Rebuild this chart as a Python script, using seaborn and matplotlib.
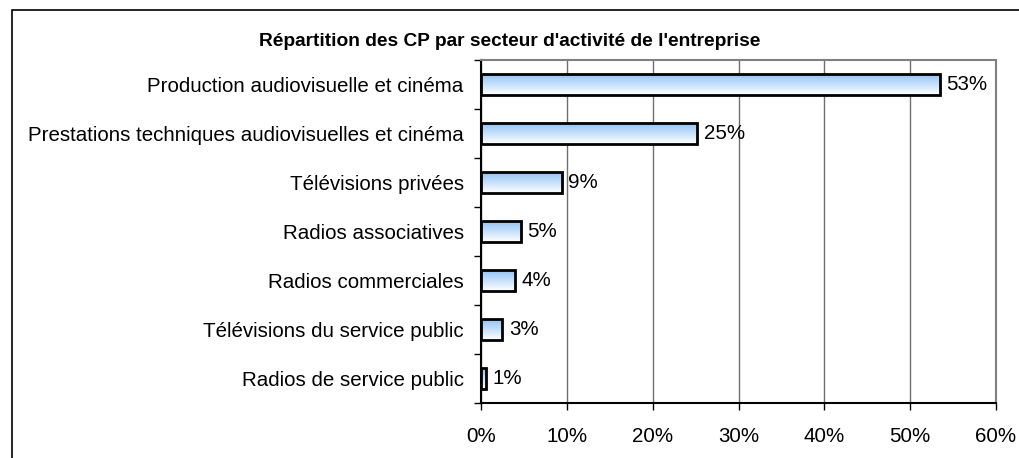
import numpy as np
import pandas as pd
import seaborn as sns
import matplotlib.pyplot as plt
from matplotlib.patches import Rectangle
from matplotlib.colors import LinearSegmentedColormap
from matplotlib.ticker import PercentFormatter

# data
secteurs = [
    "Production audiovisuelle et cinéma",
    "Prestations techniques audiovisuelles et cinéma",
    "Télévisions privées",
    "Radios associatives",
    "Radios commerciales",
    "Télévisions du service public",
    "Radios de service public",
]
parts = [53.5, 25.2, 9.4, 4.7, 4.0, 2.5, 0.6]
etiquettes = ["53%", "25%", "9%", "5%", "4%", "3%", "1%"]

df = pd.DataFrame({"secteur": secteurs, "part": parts})

sns.set_style("white")
plt.rcParams["font.family"] = ["Liberation Sans", "DejaVu Sans"]
plt.rcParams["text.color"] = "black"
plt.rcParams["xtick.color"] = "black"
plt.rcParams["ytick.color"] = "black"

fig = plt.figure(figsize=(10.2, 4.58), dpi=100)
ax = fig.add_axes([481 / 1020, 1 - 403 / 458, (996 - 481) / 1020, (403 - 60) / 458])

ax = sns.barplot(data=df, x="part", y="secteur", orient="h", width=0.42,
                 color="white", edgecolor="black", linewidth=2, ax=ax, zorder=3)

# vertical gradient light blue -> white inside each bar
cmap = LinearSegmentedColormap.from_list("grad", ["#92c3f6", "#ffffff"])
grad = np.linspace(0, 1, 64).reshape(-1, 1)
for p in ax.patches:
    x0, y0 = p.get_x(), p.get_y()
    w, h = p.get_width(), p.get_height()
    im = ax.imshow(grad, cmap=cmap, aspect="auto", extent=[x0, x0 + w, y0 + h, y0],
                   zorder=2.5, interpolation="bilinear")
    im.set_clip_path(p)
    p.set_facecolor("none")

for i, (v, lab) in enumerate(zip(parts, etiquettes)):
    ax.annotate(lab, (v, i), xytext=(4.5, 0), textcoords="offset points",
                va="center", ha="left", fontsize=14.8)

ax.set_xlim(0, 60)
ax.set_ylim(6.5, -0.5)
ax.set_xticks(np.arange(0, 61, 10))
ax.xaxis.set_major_formatter(PercentFormatter(decimals=0))
ax.xaxis.grid(True, color="#707070", linewidth=1, zorder=0)
ax.set_axisbelow(True)

ax.tick_params(axis="x", bottom=True, length=5, width=1, pad=12, labelsize=14.8)
ax.tick_params(axis="y", left=False, pad=9, labelsize=14.8)
ax.set_yticks(np.arange(-0.5, 7, 1), minor=True)
ax.tick_params(axis="y", which="minor", left=True, length=5, width=1)

ax.set_xlabel("")
ax.set_ylabel("")
for side in ["left", "bottom"]:
    ax.spines[side].set_color("black")
    ax.spines[side].set_linewidth(1.5)
for side in ["top", "right"]:
    ax.spines[side].set_color("#808080")
    ax.spines[side].set_linewidth(1.5)

fig.text(510 / 1020, 1 - 41 / 458, "Répartition des CP par secteur d'activité de l'entreprise",
         ha="center", va="center", fontsize=13.8, fontweight="bold")

# outer chart frame, cut off at right and bottom
fig.patches.append(Rectangle((12 / 1020, -0.1), 1.2, 1 - 10 / 458 + 0.1,
                             transform=fig.transFigure, fill=False,
                             edgecolor="black", linewidth=1.2))

plt.savefig("out.png", dpi=100)
